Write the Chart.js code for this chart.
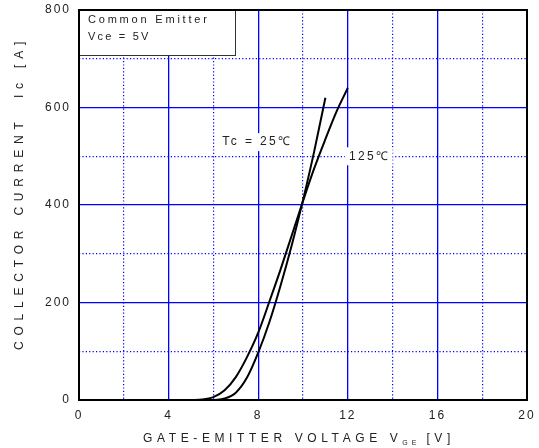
<!DOCTYPE html>
<html>
<head>
<meta charset="utf-8">
<script src="https://cdn.jsdelivr.net/npm/chart.js@4.4.1/dist/chart.umd.min.js"></script>
<style>
  html, body { margin: 0; padding: 0; background: #fff; }
</style>
</head>
<body>
<canvas id="icChart" width="539" height="448"></canvas>
<script>
/**
 *  Transfer characteristics.
 */
var vge25 = [6.0, 6.5, 7.0, 7.5, 8.0, 8.5, 9.0, 9.5, 10.0, 10.5, 11.0];
var ic25 = [0, 3, 15, 46, 97, 160, 235, 318, 410, 510, 620];

var vge125 = [5.0, 5.5, 6.0, 6.5, 7.0, 7.5, 8.0, 8.5, 9.0, 9.5, 10.0, 10.5, 11.0, 11.5, 12.0];
var ic125 = [0, 1, 6, 20, 47, 88, 138, 202, 268, 338, 408, 475, 535, 592, 640];

var xTickLabels = [0, 4, 8, 12, 16, 20];
var yTickLabels = [0, 200, 400, 600, 800];

var xTitle = 'GATE-EMITTER VOLTAGE V';
var xTitleSub = 'GE';
var xTitleEnd = '[V]';
var yTitle = 'COLLECTOR CURRENT  Ic [A]';
var boxLines = ['Common Emitter', 'Vce = 5V'];
var label25 = 'Tc = 25\u2103';
var label125 = '125\u2103';

var FONT = '"Liberation Sans", Arial, sans-serif';
var BLUE = 'rgb(0, 0, 255)';

function toPoints(xs, ys) {
    var pts = [];
    for (var i = 0; i < xs.length; i++) pts.push({x: xs[i], y: ys[i]});
    return pts;
}

/**
 *  Frame, condition box, curve labels and spaced axis titles.
 */
var decorPlugin = {
    id: 'decor',
    beforeDraw: function(chart) {
        chart.ctx.letterSpacing = '2px';
    },
    afterDatasetsDraw: function(chart) {
        var ctx = chart.ctx;
        var a = chart.chartArea;
        var xs = chart.scales.x, ys = chart.scales.y;
        ctx.save();

        // condition box, top left
        ctx.fillStyle = '#fff';
        ctx.fillRect(a.left, a.top, 157, 45);
        ctx.strokeStyle = '#333';
        ctx.lineWidth = 1;
        ctx.strokeRect(a.left + 0.5, a.top + 0.5, 156, 45);
        ctx.fillStyle = '#222';
        ctx.font = '11px ' + FONT;
        ctx.letterSpacing = '2.8px';
        ctx.textBaseline = 'middle';
        ctx.textAlign = 'left';
        ctx.fillText(boxLines[0], a.left + 9, a.top + 10);
        ctx.letterSpacing = '2.2px';
        ctx.fillText(boxLines[1], a.left + 9, a.top + 27);

        // curve labels
        ctx.font = '12px ' + FONT;
        ctx.letterSpacing = '2.4px';
        var lx = xs.getPixelForValue(6.4), ly = ys.getPixelForValue(529);
        var w = ctx.measureText(label25).width;
        ctx.fillStyle = '#fff';
        ctx.fillRect(lx - 3, ly - 9, w + 4, 18);
        ctx.fillStyle = '#222';
        ctx.fillText(label25, lx, ly);

        lx = xs.getPixelForValue(12.05); ly = ys.getPixelForValue(500);
        w = ctx.measureText(label125).width;
        ctx.fillStyle = '#fff';
        ctx.fillRect(lx - 4, ly - 9, w + 6, 18);
        ctx.fillStyle = '#222';
        ctx.fillText(label125, lx, ly);

        // plot frame
        ctx.strokeStyle = '#000';
        ctx.lineWidth = 2;
        ctx.strokeRect(a.left, a.top, a.right - a.left, a.bottom - a.top);

        // x title with subscript
        ctx.fillStyle = '#222';
        ctx.font = '12px ' + FONT;
        ctx.letterSpacing = '4.6px';
        ctx.textBaseline = 'alphabetic';
        var w1 = ctx.measureText(xTitle).width;
        ctx.font = '7px ' + FONT;
        ctx.letterSpacing = '4px';
        var w2 = ctx.measureText(xTitleSub).width;
        ctx.font = '12px ' + FONT;
        ctx.letterSpacing = '4.6px';
        var w3 = ctx.measureText(xTitleEnd).width;
        var tx = (a.left + a.right) / 2 - (w1 + w2 + 6 + w3) / 2 - 4;
        var ty = 442;
        ctx.fillText(xTitle, tx, ty);
        ctx.font = '7px ' + FONT;
        ctx.letterSpacing = '4px';
        ctx.fillText(xTitleSub, tx + w1, ty + 3);
        ctx.font = '12px ' + FONT;
        ctx.letterSpacing = '4.6px';
        ctx.fillText(xTitleEnd, tx + w1 + w2 + 6, ty);

        // y title, rotated
        ctx.translate(23, 193);
        ctx.rotate(-Math.PI / 2);
        ctx.textAlign = 'center';
        ctx.letterSpacing = '5.8px';
        ctx.fillText(yTitle, 0, 0);
        ctx.restore();
    }
};

function gridWidth(step) {
    return function(c) { return (c.tick && c.tick.value % step === 0) ? 1.3 : 1.2; };
}
function gridDash(step) {
    return function(c) { return (c.tick && c.tick.value % step !== 0) ? [1.2, 2.2] : []; };
}

var icChart = new Chart(document.getElementById('icChart').getContext('2d'), {
    type: 'scatter',
    data: {
        datasets: [{
            label: 'Tc = 25',
            data: toPoints(vge25, ic25),
            showLine: true,
            borderColor: '#000',
            borderWidth: 2,
            pointRadius: 0,
            cubicInterpolationMode: 'monotone'
        }, {
            label: 'Tc = 125',
            data: toPoints(vge125, ic125),
            showLine: true,
            borderColor: '#000',
            borderWidth: 2,
            pointRadius: 0,
            cubicInterpolationMode: 'monotone'
        }]
    },
    options: {
        responsive: false,
        animation: false,
        devicePixelRatio: 1,
        layout: { padding: { top: 10, right: 12, left: 0, bottom: 0 } },
        plugins: { legend: { display: false }, tooltip: { enabled: false } },
        scales: {
            x: {
                type: 'linear',
                min: 0, max: 20,
                afterFit: function(scale) {
                    scale.height = 48;
                    scale.paddingLeft = 0;
                    scale.paddingRight = 0;
                },
                ticks: {
                    stepSize: 2,
                    padding: 8,
                    color: '#222',
                    font: { size: 12, family: FONT },
                    maxRotation: 0,
                    callback: function(v) { return xTickLabels.indexOf(v) >= 0 ? String(v) : ''; }
                },
                grid: {
                    drawTicks: false,
                    color: BLUE,
                    lineWidth: gridWidth(4)
                },
                border: { display: false, dash: gridDash(4) }
            },
            y: {
                type: 'linear',
                min: 0, max: 800,
                afterFit: function(scale) {
                    scale.width = 79;
                    scale.paddingTop = 0;
                    scale.paddingBottom = 0;
                },
                ticks: {
                    stepSize: 100,
                    padding: 8,
                    color: '#222',
                    font: { size: 12, family: FONT },
                    callback: function(v) { return yTickLabels.indexOf(v) >= 0 ? String(v) : ''; }
                },
                grid: {
                    drawTicks: false,
                    color: BLUE,
                    lineWidth: gridWidth(200)
                },
                border: { display: false, dash: gridDash(200) }
            }
        }
    },
    plugins: [decorPlugin]
});
</script>
</body>
</html>
